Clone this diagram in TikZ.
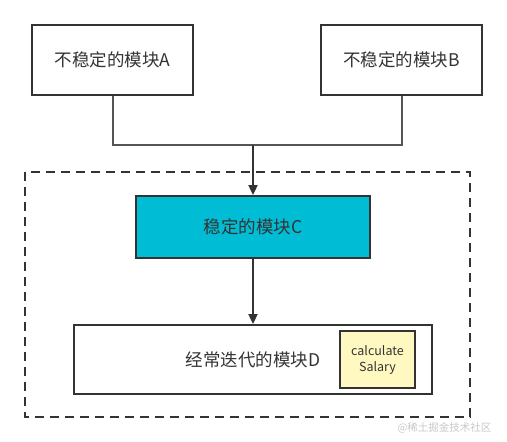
\documentclass[tikz,border=0pt]{standalone}
\usepackage{fontspec}
\setmainfont{Noto Sans CJK SC}
\usetikzlibrary{arrows.meta}
\definecolor{boxline}{HTML}{333333}
\definecolor{linkc}{HTML}{555555}
\definecolor{cfill}{HTML}{00BCD4}
\definecolor{yfill}{HTML}{FFF8C0}
\definecolor{wm}{HTML}{C8C8C8}
\tikzset{
  modbox/.style={draw=boxline, line width=1.8pt, inner sep=0pt, font=\fontsize{17.5}{20}\selectfont, text=boxline},
  link/.style={draw=linkc, line width=2pt},
  arr/.style={draw=boxline, line width=1.8pt, -{Triangle[width=9pt,length=10pt]}},
}
\begin{document}
\begin{tikzpicture}[x=1pt,y=-1pt]
\useasboundingbox (0,0) rectangle (507,442);
% dashed frame
\draw[boxline, line width=1.8pt, dash pattern=on 9pt off 6pt] (25,172) rectangle (470,417);
% boxes
\node[modbox, minimum width=161pt, minimum height=70pt] (A) at (112.5,60) {不稳定的模块A};
\node[modbox, minimum width=161pt, minimum height=70pt] (B) at (401.5,60) {不稳定的模块B};
\node[modbox, fill=cfill, minimum width=234pt, minimum height=62pt] (C) at (253,227) {稳定的模块C};
\node[modbox, minimum width=358pt, minimum height=69pt] (D) at (253,359.5) {};
\node[font=\fontsize{17.5}{20}\selectfont, text=boxline] (Dt) at (253,360) {经常迭代的模块D};
\node[modbox, fill=yfill, minimum width=75pt, minimum height=57pt, align=center, font=\fontsize{12.5}{16}\selectfont] (S) at (377.5,359.5) {calculate\\Salary};
% connectors
\coordinate (J) at (253,145);
\draw[link] (A.south) |- (J);
\draw[link] (B.south) |- (J);
\draw[arr] (J) -- (C.north);
\draw[arr] (C.south) -- (D.north);
% watermark
\node[text=wm, font=\fontsize{10.5}{12}\selectfont, anchor=east] (W) at (495,428) {@稀土掘金技术社区};
\end{tikzpicture}
\end{document}
